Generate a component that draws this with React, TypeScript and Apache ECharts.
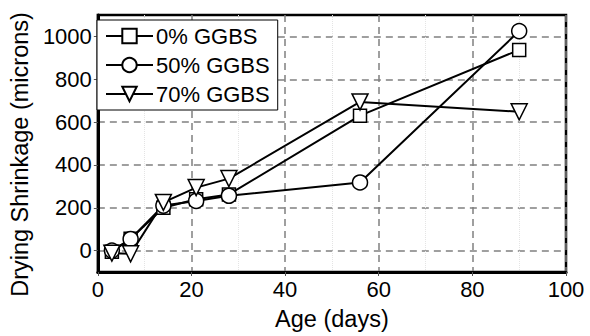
import React, { useEffect, useRef } from "react";
import * as echarts from "echarts";

const ages = [3, 7, 14, 21, 28, 56, 90];
const ggbs0 = [-5, 55, 200, 240, 262, 630, 937];
const ggbs50 = [0, 54, 210, 232, 256, 318, 1025];
const ggbs70 = [-12, -15, 225, 294, 336, 694, 648];
const seriesNames = ["0% GGBS", "50% GGBS", "70% GGBS"];
const yTicks = [0, 200, 400, 600, 800, 1000];

const FONT = "Liberation Sans";

export default function App() {
  const ref = useRef<HTMLDivElement>(null);
  useEffect(() => {
    if (!ref.current) return;
    document.body.style.margin = "0";
    document.body.style.overflow = "hidden";
    const chart = echarts.init(ref.current, null, { renderer: "svg" });
    const mk = (name: string, vals: number[], symbol: string, size: number, rotate = 0) => ({
      name,
      type: "line",
      data: ages.map((a, i) => [a, vals[i]]),
      symbol,
      symbolSize: size,
      symbolRotate: rotate,
      showAllSymbol: true,
      lineStyle: { color: "#000", width: 2 },
      itemStyle: { color: "#fff", borderColor: "#000", borderWidth: 1.5 },
      emphasis: { disabled: true },
    });
    chart.setOption({
      animation: false,
      backgroundColor: "#fff",
      textStyle: { fontFamily: FONT },
      grid: {
        left: 91,
        right: 24,
        top: 15,
        bottom: 62,
        show: true,
        borderColor: "#000",
        borderWidth: 2.5,
        backgroundColor: "transparent",
      },
      legend: {
        left: 97,
        top: 20,
        orient: "vertical",
        data: seriesNames,
        backgroundColor: "#fff",
        borderColor: "#000",
        borderWidth: 1,
        borderRadius: 0,
        padding: [5, 8, 5, 8],
        itemWidth: 47,
        itemHeight: 18,
        itemGap: 7,
        textStyle: { fontFamily: FONT, fontSize: 22, color: "#000", padding: [0, 0, 0, -2] },
      },
      xAxis: {
        type: "value",
        min: 0,
        max: 100,
        interval: 20,
        name: "Age (days)",
        nameLocation: "middle",
        nameGap: 35,
        nameTextStyle: { fontFamily: FONT, fontSize: 23.5, color: "#000" },
        axisLine: { show: true, onZero: false, lineStyle: { color: "#000", width: 3 } },
        axisTick: { show: true, length: 4, lineStyle: { color: "#555", width: 1 } },
        axisLabel: { fontFamily: FONT, fontSize: 22, color: "#000", margin: 6 },
        splitLine: { show: true, lineStyle: { color: "#808080", width: 1.5, type: [7, 5] } },
        minorTick: { show: false, splitNumber: 2 },
        minorSplitLine: { show: true, lineStyle: { color: "#e4e4e4", width: 1, type: [1, 1] } },
      },
      yAxis: {
        type: "value",
        min: -100,
        max: 1100,
        interval: 100,
        name: "Drying Shrinkage (microns)",
        nameLocation: "middle",
        nameGap: 57,
        nameTextStyle: { fontFamily: FONT, fontSize: 23.5, color: "#000", padding: [0, 22, 0, 0] },
        axisLine: { show: true, onZero: false, lineStyle: { color: "#000", width: 3 } },
        axisTick: { show: true, length: 4, lineStyle: { color: "#555", width: 1 }, customValues: yTicks },
        axisLabel: {
          fontFamily: FONT,
          fontSize: 22,
          color: "#000",
          margin: 6,
          customValues: yTicks,
          formatter: (v: number) => String(v),
        },
        splitLine: { show: true, lineStyle: { color: "#808080", width: 1.5, type: [7, 5] } },
      },
      series: [
        mk(seriesNames[0], ggbs0, "rect", 13),
        mk(seriesNames[1], ggbs50, "circle", 15),
        mk(seriesNames[2], ggbs70, "triangle", 16, 180),
      ],
    });
    return () => chart.dispose();
  }, []);
  return <div ref={ref} style={{ width: 590, height: 336 }} />;
}
